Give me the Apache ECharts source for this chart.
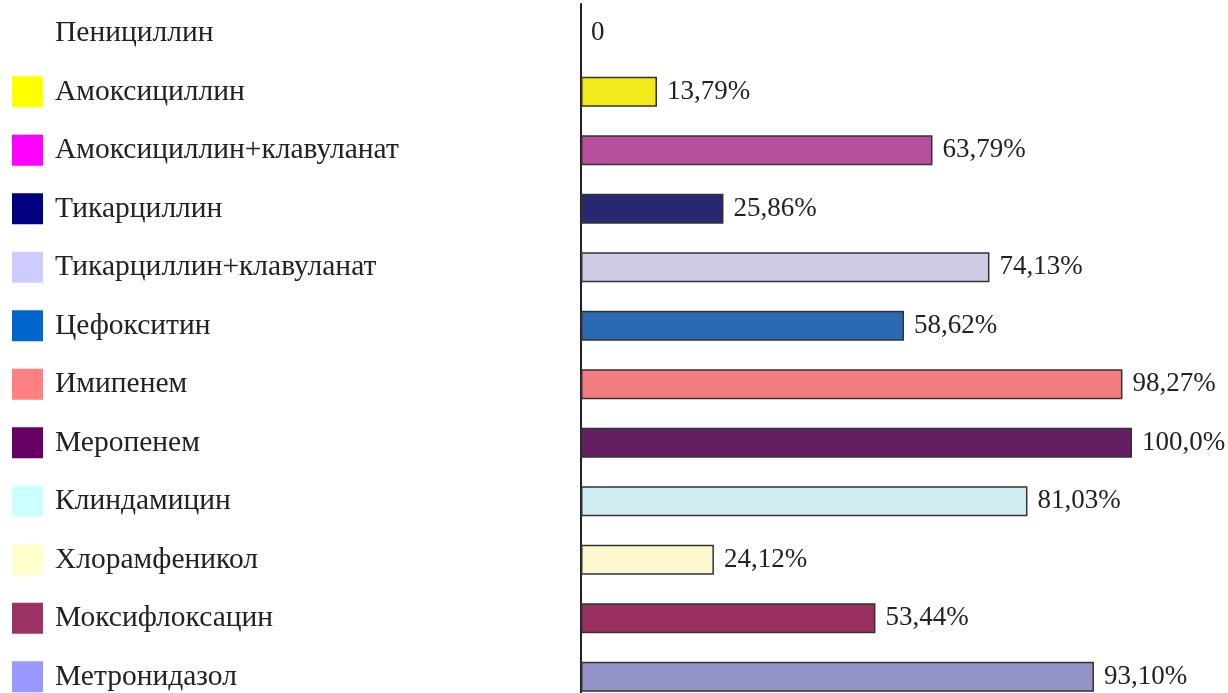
<!DOCTYPE html>
<html>
<head>
<meta charset="utf-8">
<script src="https://cdn.jsdelivr.net/npm/echarts@6/dist/echarts.min.js"></script>
<style>
  html, body { margin: 0; padding: 0; background: #fff; overflow: hidden; }
  #chart { width: 1228px; height: 720px; }
</style>
</head>
<body>
<div id="chart"></div>
<script>
// препараты (сверху вниз)
const categories = [
  'Пенициллин', 'Амоксициллин', 'Амоксициллин+клавуланат', 'Тикарциллин',
  'Тикарциллин+клавуланат', 'Цефокситин', 'Имипенем', 'Меропенем',
  'Клиндамицин', 'Хлорамфеникол', 'Моксифлоксацин', 'Метронидазол'
]
const values = [0, 13.79, 63.79, 25.86, 74.13, 58.62, 98.27, 100.0, 81.03, 24.12, 53.44, 93.10]
const valueLabels = ['0', '13,79%', '63,79%', '25,86%', '74,13%', '58,62%', '98,27%', '100,0%', '81,03%', '24,12%', '53,44%', '93,10%']
const barColors = ['#ffffff', '#f2ea1a', '#b9509f', '#27286f', '#cecbe5', '#2a69b3', '#f27c7f', '#631f5f', '#d2ecf3', '#fbf7ce', '#9a3061', '#9493c7']
const legendColors = ['transparent', '#ffff00', '#ff00ff', '#000080', '#ccccff', '#0066cc', '#ff8080', '#660066', '#ccffff', '#ffffcc', '#993366', '#9999ff']

const chart = echarts.init(document.getElementById('chart'))

const rich = {
  txt: { fontFamily: 'Liberation Serif', fontSize: 29.5, color: '#222', padding: [0, 0, 0, 12] }
}
legendColors.forEach((c, i) => {
  rich['b' + i] = { width: 31, height: 31, backgroundColor: c }
})

const option = {
  backgroundColor: '#fff',
  animation: false,
  // сетка чуть выходит за нижний край окна, как в оригинале
  grid: { left: 581, top: 4, width: 551, height: 702 },
  xAxis: {
    type: 'value',
    min: 0,
    max: 100,
    show: false
  },
  yAxis: {
    type: 'category',
    inverse: true,
    data: categories,
    axisLine: { show: true, lineStyle: { color: '#222', width: 2 } },
    axisTick: { show: false },
    axisLabel: {
      align: 'left',
      margin: 569,
      formatter: (v, i) => '{b' + i + '|}{txt|' + v + '}',
      rich
    }
  },
  series: [{
    type: 'bar',
    barWidth: 30,
    data: values.map((v, i) => ({
      value: v,
      itemStyle: { color: barColors[i], borderColor: '#333', borderWidth: v ? 1.5 : 0 }
    })),
    label: {
      show: true,
      position: 'right',
      distance: 10,
      fontFamily: 'Liberation Serif',
      fontSize: 27,
      color: '#222',
      formatter: p => valueLabels[p.dataIndex]
    }
  }]
}

chart.setOption(option)
</script>
</body>
</html>
